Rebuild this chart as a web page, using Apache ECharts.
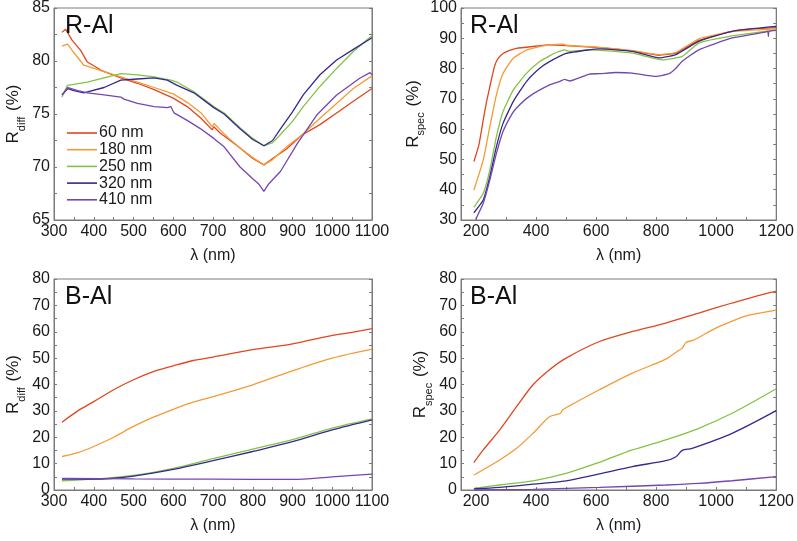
<!DOCTYPE html>
<html><head><meta charset="utf-8">
<script src="https://cdn.jsdelivr.net/npm/echarts@6/dist/echarts.min.js"></script>
<style>html,body{margin:0;padding:0;background:#fff}#c{width:797px;height:541px}</style>
</head><body><div id="c"></div>
<script>
// ---------- data ----------
const seriesNames = ['60 nm', '180 nm', '250 nm', '320 nm', '410 nm'];
const colors = ['#e2461f', '#f59b35', '#85c243', '#33298f', '#7446b3'];

// Panel A: R-Al, R_diff
const aL60 = [320,329,345,367,384,420,468,510,552,600,635,670,698,702,718,740,768,800,828,850,885,923,969,1011,1053,1100];
const aV60 = [82.7,83.0,82.0,81.0,79.9,79.1,78.4,77.9,77.3,76.5,75.7,74.6,73.5,73.8,73.2,72.6,71.8,70.8,70.2,70.8,71.7,73.0,74.0,75.1,76.2,77.4];
const aL180 = [320,334,350,375,426,468,510,552,600,635,670,698,703,718,740,768,800,828,850,885,923,969,1011,1053,1100];
const aV180 = [81.4,81.6,80.8,79.6,79.0,78.5,78.0,77.5,76.9,76.1,75.1,73.8,74.1,73.5,72.7,71.8,70.9,70.2,70.7,71.9,73.0,74.6,76.0,77.4,78.6];
const aL250 = [320,334,350,384,426,468,510,552,594,610,652,702,728,768,800,828,850,868,900,927,969,1011,1053,1100];
const aV250 = [76.6,77.7,77.8,78.0,78.4,78.8,78.7,78.5,78.2,78.0,77.1,75.7,75.1,73.7,72.7,72.0,72.3,73.0,74.3,75.7,77.6,79.3,80.9,82.4];
const aL320 = [320,335,350,375,426,468,510,552,585,610,652,702,728,768,800,828,850,868,900,927,969,1011,1053,1100];
const aV320 = [76.8,77.4,77.2,77.0,77.5,78.2,78.3,78.4,78.2,77.7,77.0,75.6,75.0,73.6,72.6,72.0,72.5,73.5,75.2,76.8,78.7,80.1,81.1,82.2];
const aL410 = [320,335,360,384,426,468,476,484,510,552,585,594,602,635,669,702,728,768,800,815,828,840,870,912,961,1011,1070,1095,1100];
const aV410 = [76.8,77.5,77.2,77.0,76.8,76.6,76.4,76.3,76.0,75.7,75.6,75.7,75.1,74.4,73.6,72.7,71.9,70.0,68.9,68.4,67.7,68.4,69.6,72.2,74.9,76.8,78.4,78.9,78.7];

// Panel B: R-Al, R_spec
const bL60 = [193,210,224,235,246,255,263,275,290,312,335,390,445,500,611,721,810,865,900,942,1000,1053,1120,1200];
const bV60 = [49.3,55.0,63.0,69.0,74.0,78.0,81.2,83.5,85.0,86.0,86.7,87.3,87.8,87.6,86.9,85.8,84.4,85.1,87.0,89.3,91.0,92.3,93.1,93.5];
const bL180 = [193,224,246,268,290,324,368,445,489,500,611,721,810,865,942,1000,1053,1200];
const bV180 = [39.9,49.8,60.8,71.3,78.4,83.4,86.1,87.8,88.1,87.7,87.0,85.9,84.6,85.3,89.8,91.2,92.2,93.1];
const bL250 = [193,224,246,268,290,324,368,412,445,467,495,511,578,721,821,887,942,1053,1200];
const bV250 = [34.2,38.8,46.5,57.5,65.8,72.9,78.4,82.3,84.2,85.3,86.2,85.7,86.2,85.1,82.9,84.0,88.4,90.8,92.8];
const bL320 = [193,224,246,268,290,324,368,412,445,500,578,611,721,810,865,942,1053,1200];
const bV320 = [32.4,36.6,44.3,54.2,61.9,69.1,75.7,80.1,82.3,85.0,86.2,86.5,85.7,83.5,84.6,89.0,92.3,93.9];
const bL410 = [199,224,246,268,290,318,335,379,445,478,495,511,578,611,666,721,799,843,865,887,942,1053,1163,1172,1174,1176,1200];
const bV410 = [30.2,35.5,43.2,52.0,59.2,64.7,67.0,70.9,74.6,75.7,76.4,75.9,78.2,78.3,78.7,78.5,77.4,78.3,80.0,82.4,86.2,90.1,92.0,92.3,90.6,92.3,92.6];

// Panel C: B-Al, R_diff
const cL60 = [320,360,400,450,500,550,600,650,700,800,900,1000,1050,1100];
const cV60 = [25.7,30.0,33.5,38.0,41.8,44.9,47.1,49.1,50.4,53.2,55.4,58.6,59.8,61.2];
const cL180 = [320,360,400,450,500,550,600,650,700,800,900,1000,1100];
const cV180 = [12.7,14.2,16.5,20.0,24.1,27.6,30.6,33.3,35.4,39.9,45.2,50.0,53.4];
const cL250 = [320,400,500,600,700,800,900,1000,1100];
const cV250 = [3.5,4.1,5.5,8.2,11.9,15.5,19.1,23.5,27.0];
const cL320 = [320,400,500,600,700,800,900,1000,1100];
const cV320 = [4.1,4.1,5.3,7.8,11.1,14.6,18.3,22.8,26.6];
const cL410 = [320,500,700,900,1000,1100];
const cV410 = [4.4,4.2,4.1,4.0,5.0,6.0];

// Panel D: B-Al, R_spec
const dL60 = [193,224,279,335,390,445,500,611,721,832,942,1053,1163,1200];
const dV60 = [10.4,15.2,22.8,31.6,39.9,45.6,50.0,56.3,60.1,63.3,67.1,70.9,74.4,75.3];
const dL180 = [193,279,335,390,445,480,489,511,611,721,832,870,887,900,920,942,1000,1053,1100,1200];
const dV180 = [5.7,11.4,15.8,21.5,27.8,29.0,30.4,31.9,38.0,44.3,49.6,52.5,53.8,56.0,56.6,57.8,61.5,64.0,66.0,68.2];
const dL250 = [193,279,390,500,611,721,832,942,1053,1200];
const dV250 = [0.6,1.9,3.5,6.3,10.5,15.2,19.0,23.4,29.1,38.4];
const dL320 = [193,279,390,500,611,721,832,865,887,920,1053,1200];
const dV320 = [0.4,1.0,2.2,3.5,6.1,8.9,11.1,12.5,15.0,15.8,21.5,30.1];
const dL410 = [193,390,611,832,942,1053,1200];
const dV410 = [0.0,0.25,1.0,1.9,2.5,3.5,5.1];

const xTicksA = [300,350,400,450,500,550,600,650,700,750,800,850,900,950,1000,1050,1100];
const xLabelsA = [300,400,500,600,700,800,900,1000,1100];
const xTicksB = [200,300,400,500,600,700,800,900,1000,1100,1200];
const xLabelsB = [200,400,600,800,1000,1200];
const yTicksA = [65,67.5,70,72.5,75,77.5,80,82.5,85];
const yLabelsA = [65,70,75,80,85];
const yTicksB = [30,35,40,45,50,55,60,65,70,75,80,85,90,95,100];
const yLabelsB = [30,40,50,60,70,80,90,100];
const yTicksC = [0,5,10,15,20,25,30,35,40,45,50,55,60,65,70,75,80];
const yLabelsC = [0,10,20,30,40,50,60,70,80];

// ---------- chart ----------
const FONT = 'Liberation Sans, Arial, sans-serif';
const AX = '#7a7a7a';
const TXT = '#1a1a1a';
const zip = (a, b) => a.map((v, i) => [v, b[i]]);
const plain = v => String(v);

const grids = [
  {left: 54, top: 8, width: 318, height: 212},
  {left: 461, top: 8, width: 317, height: 212},
  {left: 54, top: 279, width: 318, height: 211},
  {left: 461, top: 279, width: 317, height: 211}
].map(g => Object.assign(g, {show: true, borderColor: AX, borderWidth: 1, containLabel: false}));

const xCfg = [
  {min: 300, max: 1100, ticks: xTicksA, labels: xLabelsA},
  {min: 150, max: 1200, ticks: xTicksB, labels: xLabelsB},
  {min: 300, max: 1100, ticks: xTicksA, labels: xLabelsA},
  {min: 150, max: 1200, ticks: xTicksB, labels: xLabelsB}
];
const yCfg = [
  {min: 65, max: 85, ticks: yTicksA, labels: yLabelsA, name: 'diff'},
  {min: 30, max: 100, ticks: yTicksB, labels: yLabelsB, name: 'spec'},
  {min: 0, max: 80, ticks: yTicksC, labels: yLabelsC, name: 'diff'},
  {min: 0, max: 80, ticks: yTicksC, labels: yLabelsC, name: 'spec'}
];

const xAxis = xCfg.map((c, i) => ({
  type: 'value', gridIndex: i, min: c.min, max: c.max, interval: 50,
  name: 'λ (nm)', nameLocation: 'middle', nameGap: 28,
  nameTextStyle: {fontFamily: FONT, fontSize: 16, color: TXT},
  axisLine: {show: true, lineStyle: {color: AX}},
  axisTick: {show: true, inside: true, length: 3, lineStyle: {color: AX}, customValues: c.ticks},
  axisLabel: {fontFamily: FONT, fontSize: 16, color: TXT, margin: 4, customValues: c.labels, formatter: plain},
  splitLine: {show: false}
}));

const yAxis = [];
yCfg.forEach((c, i) => {
  yAxis.push({
    type: 'value', gridIndex: i, min: c.min, max: c.max, position: 'left',
    name: '{m|R}{s|' + c.name + '}{m| (%)}', nameLocation: 'middle', nameGap: 32, nameRotate: 90,
    nameTextStyle: {fontFamily: FONT, color: TXT,
      rich: {m: {fontFamily: FONT, fontSize: 17, color: TXT, lineHeight: 20, verticalAlign: 'bottom'},
             s: {fontFamily: FONT, fontSize: 11, color: TXT, lineHeight: 20, verticalAlign: 'bottom', padding: [0, 1, -5, 0]}}},
    axisLine: {show: true, lineStyle: {color: AX}},
    axisTick: {show: true, inside: true, length: 3, lineStyle: {color: AX}, customValues: c.ticks},
    axisLabel: {fontFamily: FONT, fontSize: 16, color: TXT, margin: 4, customValues: c.labels, formatter: plain},
    splitLine: {show: false}
  });
  yAxis.push({
    type: 'value', gridIndex: i, min: c.min, max: c.max, position: 'right',
    axisLine: {show: true, lineStyle: {color: AX}},
    axisTick: {show: true, inside: true, length: 3, lineStyle: {color: AX}, customValues: c.ticks},
    axisLabel: {show: false},
    splitLine: {show: false}
  });
});

const panels = [
  [[aL60, aV60], [aL180, aV180], [aL250, aV250], [aL320, aV320], [aL410, aV410]],
  [[bL60, bV60], [bL180, bV180], [bL250, bV250], [bL320, bV320], [bL410, bV410]],
  [[cL60, cV60], [cL180, cV180], [cL250, cV250], [cL320, cV320], [cL410, cV410]],
  [[dL60, dV60], [dL180, dV180], [dL250, dV250], [dL320, dV320], [dL410, dV410]]
];
const smoothing = [false, 0.15, 0.3, 0.3];
const series = [];
panels.forEach((p, gi) => {
  p.forEach((s, si) => {
    series.push({
      type: 'line', name: seriesNames[si], xAxisIndex: gi, yAxisIndex: gi * 2,
      data: zip(s[0], s[1]), symbol: 'none', smooth: smoothing[gi], silent: true,
      lineStyle: {color: colors[si], width: 1.3}, itemStyle: {color: colors[si]}
    });
  });
});

const panelTitles = [
  {text: 'R-Al', left: 60, top: 9},
  {text: 'R-Al', left: 465, top: 9},
  {text: 'B-Al', left: 60, top: 280},
  {text: 'B-Al', left: 465, top: 280}
].map(t => Object.assign(t, {textStyle: {fontFamily: FONT, fontSize: 25, fontWeight: 'normal', color: '#111'}}));

const chart = echarts.init(document.getElementById('c'), null, {renderer: 'canvas'});
chart.setOption({
  animation: false,
  backgroundColor: '#fff',
  title: panelTitles,
  grid: grids,
  xAxis: xAxis,
  yAxis: yAxis,
  legend: {
    data: seriesNames.map((n, i) => ({name: n, icon: 'rect', itemStyle: {color: colors[i]}})),
    orient: 'vertical', left: 67, top: 125, padding: 0,
    itemWidth: 30, itemHeight: 1.6, itemGap: 0.7,
    textStyle: {fontFamily: FONT, fontSize: 16, lineHeight: 16, color: TXT, padding: [0, 0, 0, -3]}
  },
  series: series
});
</script></body></html>
